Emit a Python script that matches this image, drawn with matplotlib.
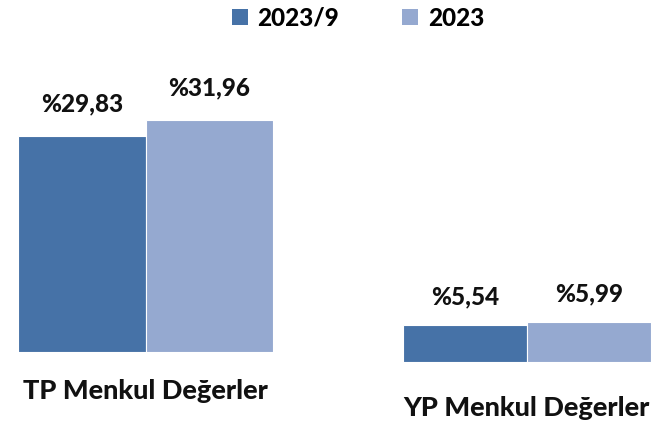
import matplotlib
matplotlib.use("Agg")
import matplotlib.pyplot as plt
from matplotlib.patches import Patch
import matplotlib.patheffects as pe

plt.rcParams['font.family'] = ['Lato', 'DejaVu Sans']

categories = ["TP Menkul Değerler", "YP Menkul Değerler"]
series_names = ["2023/9", "2023"]
tp_values = [29.83, 31.96]
yp_values = [5.54, 5.99]
value_labels_tp = ["%29,83", "%31,96"]
value_labels_yp = ["%5,54", "%5,99"]
colors = ["#4672A7", "#95A9D0"]

W, H = 659, 422
fig = plt.figure(figsize=(W / 100, H / 100), dpi=100)

def px_axes(x0, x1, base, top):
    return fig.add_axes([x0 / W, (H - base) / H, (x1 - x0) / W, (base - top) / H])

shadow = [pe.SimplePatchShadow(offset=(1.2, -1.2), alpha=0.25), pe.Normal()]

ax1 = px_axes(18.3, 273.0, 351.7, 351.7 - 7.245 * 40)
ax1.set_ylim(0, 40)
ax2 = px_axes(402.7, 650.7, 361.7, 361.7 - 6.65 * 10)
ax2.set_ylim(0, 10)

groups = [(ax1, tp_values, value_labels_tp, categories[0], 23, 28),
          (ax2, yp_values, value_labels_yp, categories[1], 20, 33)]

for ax, vals, labs, cat, lab_off, cat_off in groups:
    bars = ax.bar([0, 1], vals, width=1.0, color=colors, edgecolor="white",
                  linewidth=0.8)
    for b in bars:
        b.set_path_effects(shadow)
    ax.set_xlim(-0.5, 1.5)
    for i, (v, t) in enumerate(zip(vals, labs)):
        ax.annotate(t, (i, v), xytext=(0, lab_off), textcoords="offset points",
                    ha="center", va="center", fontsize=17.5, fontweight=900,
                    color="#111111")
    ax.annotate(cat, (0.5, 0), xytext=(0, -cat_off), textcoords="offset points",
                ha="center", va="center", fontsize=19.5, fontweight=900,
                color="#111111", annotation_clip=False)
    ax.axis("off")

handles = [Patch(facecolor=c, edgecolor="none") for c in colors]
fig.legend(handles, series_names, loc="center", bbox_to_anchor=(358 / W, 1 - 18 / H),
           ncol=2, frameon=False, prop={"size": 17.5, "weight": 900},
           handlelength=0.65, handleheight=0.65, handletextpad=0.4,
           columnspacing=2.6)

fig.savefig("out.png", dpi=100)
